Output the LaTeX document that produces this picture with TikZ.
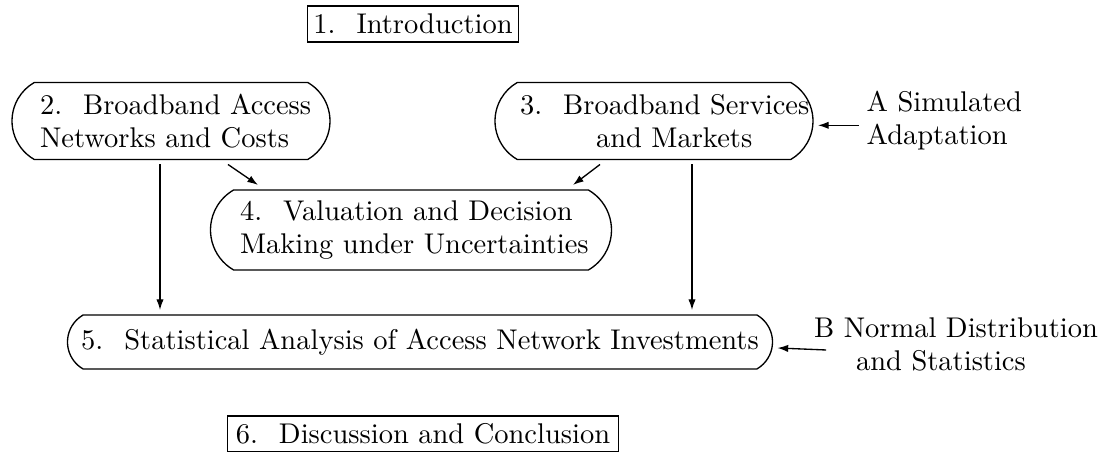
\documentclass[tikz,border=0pt]{standalone}
\usepackage{fontspec}
\setmainfont{lmroman10-regular}[Extension=.otf]
\usetikzlibrary{shapes.misc,arrows.meta}
% gap between a section number and its title
\newcommand\numgap{\hspace{6.3pt}}
\begin{document}
\begin{tikzpicture}[x=0.3pt,y=-0.3pt,
  every node/.style={font=\fontsize{8.55}{9.9}\selectfont},
  box/.style={draw,line width=0.4pt,inner sep=0pt},
  pill/.style={draw,line width=0.4pt,rounded rectangle,rounded rectangle arc length=120,inner sep=0pt,outer sep=1.5pt},
  side/.style={inner sep=0pt,outer sep=2pt},
  arr/.style={-{Latex[length=3.2pt,width=2.2pt]},line width=0.4pt}]
\useasboundingbox (0,0) rectangle (1112,452);
\node[box,minimum width=63.3pt,minimum height=10.8pt] (n1) at (413,24) {1.\numgap Introduction};
\node[pill,minimum width=95.4pt,minimum height=23.1pt,text width=78.6pt,align=left] (n2) at (171,121)
  {\mbox{2.\numgap Broadband Access}\\\mbox{Networks and Costs}};
\node[pill,minimum width=95.4pt,minimum height=23.1pt,text width=80.4pt,align=left] (n3) at (654,121)
  {\mbox{3.\numgap Broadband Services}\\\mbox{\hspace*{22.8pt}and Markets}};
\node[pill,minimum width=120.3pt,minimum height=24pt,text width=102.6pt,align=left] (n4) at (411,230)
  {\mbox{4.\numgap Valuation and Decision}\\\mbox{Making under Uncertainties}};
\node[pill,minimum width=211.5pt,minimum height=16.2pt] (n5) at (420,342) {5.\numgap Statistical Analysis of Access Network Investments};
\node[box,minimum width=117.3pt,minimum height=10.8pt] (n6) at (423,434) {6.\numgap Discussion and Conclusion};
\node[side,align=left,anchor=west] (a) at (860,121) {A Simulated\\Adaptation};
\node[side,align=center] (b) at (956,344) {B Normal Distribution\\\hspace*{-9pt}and Statistics};
\coordinate (c1) at (160,0);
\coordinate (c2) at (692,0);
\draw[arr] ([xshift=-0.4pt,yshift=-1.3pt]a.west) -- ([yshift=-1.3pt]n3.east);
\draw[arr] ([xshift=5.6pt,yshift=-1.8pt]b.west) -- ([yshift=-1.8pt]n5.east);
\draw[arr] (n2.south -| c1) -- (n5.north -| c1);
\draw[arr] (n3.south -| c2) -- (n5.north -| c2);
\draw[arr] ([xshift=17.1pt]n2.south) -- ([xshift=-45.9pt]n4.north);
\draw[arr] ([xshift=-16.2pt]n3.south) -- ([xshift=48.6pt]n4.north);
\end{tikzpicture}
\end{document}
